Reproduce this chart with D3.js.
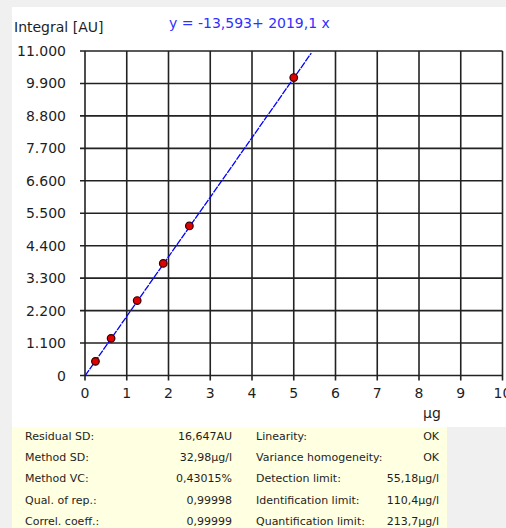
<!DOCTYPE html>
<html><head><meta charset="utf-8">
<script src="https://cdn.jsdelivr.net/npm/d3@7"></script>
<style>
html,body{margin:0;padding:0;background:#f0f0f0;overflow:hidden}
svg{display:block}
</style></head>
<body>
<svg id="c" width="506" height="528"></svg>
<script>
const concentrations = [0.25, 0.625, 1.25, 1.875, 2.5, 5];
const integrals = [480, 1260, 2540, 3800, 5070, 10100];
const intercept = -13.593;
const slope = 2019.1;
const lineXRange = [0, 5.42];
const xTicks = [0,1,2,3,4,5,6,7,8,9,10];
const yTicks = [0,1100,2200,3300,4400,5500,6600,7700,8800,9900,11000];
const yTickLabels = ["0","1.100","2.200","3.300","4.400","5.500","6.600","7.700","8.800","9.900","11.000"];
const yAxisTitle = "Integral [AU]";
const xAxisTitle = "µg";
const equationText = "y = -13,593+ 2019,1 x";
const statLabelsLeft = ["Residual SD:","Method SD:","Method VC:","Qual. of rep.:","Correl. coeff.:"];
const statValuesLeft = ["16,647AU","32,98µg/l","0,43015%","0,99998","0,99999"];
const statLabelsRight = ["Linearity:","Variance homogeneity:","Detection limit:","Identification limit:","Quantification limit:"];
const statValuesRight = ["OK","OK","55,18µg/l","110,4µg/l","213,7µg/l"];

const svg = d3.select("#c");
const font = "Tahoma, 'DejaVu Sans', sans-serif";

// white panel
svg.append("rect").attr("x",12).attr("y",7).attr("width",494).attr("height",420).attr("fill","#ffffff");
// yellow stats panel
svg.append("rect").attr("x",12).attr("y",427).attr("width",435).attr("height",101).attr("fill","#ffffe1");

const x = d3.scaleLinear().domain([0,10]).range([85,502.5]);
const y = d3.scaleLinear().domain([0,11000]).range([375.5,51]);

const g = svg.append("g");
// grid
g.selectAll("line.vx").data(xTicks).join("line")
  .attr("x1",d=>x(d)).attr("x2",d=>x(d)).attr("y1",y(11000)).attr("y2",y(0)+5)
  .attr("stroke","#222").attr("stroke-width",1.6);
g.selectAll("line.hy").data(yTicks).join("line")
  .attr("x1",x(0)-5).attr("x2",x(10)).attr("y1",d=>y(d)).attr("y2",d=>y(d))
  .attr("stroke","#222").attr("stroke-width",1.6);

// y tick labels
g.selectAll("text.yl").data(yTicks).join("text")
  .attr("x",66).attr("y",d=>y(d)).attr("dy","0.36em").attr("text-anchor","end")
  .attr("font-family",font).attr("font-size",14).attr("fill","#1e1e1e")
  .text((d,i)=>yTickLabels[i]);
// x tick labels
g.selectAll("text.xl").data(xTicks).join("text")
  .attr("x",d=>x(d)).attr("y",393).attr("dy","0.36em").attr("text-anchor","middle")
  .attr("font-family",font).attr("font-size",14).attr("fill","#1e1e1e")
  .text(d=>d);

svg.append("text").attr("x",432).attr("y",413).attr("dy","0.36em").attr("text-anchor","middle")
  .attr("font-family",font).attr("font-size",14).attr("fill","#1e1e1e").text(xAxisTitle);
svg.append("text").attr("x",14).attr("y",27).attr("dy","0.36em")
  .attr("font-family",font).attr("font-size",14).attr("fill","#1e1e1e").text(yAxisTitle);
svg.append("text").attr("x",169).attr("y",23).attr("dy","0.36em")
  .attr("font-family",font).attr("font-size",14).attr("fill","#3030ff").text(equationText);

// regression line
const lineData = lineXRange.map(v=>[v, intercept+slope*v]);
svg.append("path").datum(lineData)
  .attr("d", d3.line().x(d=>x(d[0])).y(d=>y(d[1])))
  .attr("stroke","#0000ff").attr("stroke-width",1.3).attr("fill","none")
  .attr("stroke-dasharray","7,1");

// points
svg.selectAll("circle.pt").data(concentrations).join("circle")
  .attr("cx",d=>x(d)).attr("cy",(d,i)=>y(integrals[i])).attr("r",3.8)
  .attr("fill","#e00000").attr("stroke","#300000").attr("stroke-width",1.2);

// stats table
const rowY = i => 436 + i*21.2;
const tf = 11;
svg.selectAll("text.sl").data(statLabelsLeft).join("text")
  .attr("x",25).attr("y",(d,i)=>rowY(i)).attr("dy","0.36em")
  .attr("font-family",font).attr("font-size",tf).attr("fill","#1e1e1e").text(d=>d);
svg.selectAll("text.sv").data(statValuesLeft).join("text")
  .attr("x",232).attr("y",(d,i)=>rowY(i)).attr("dy","0.36em").attr("text-anchor","end")
  .attr("font-family",font).attr("font-size",tf).attr("fill","#1e1e1e").text(d=>d);
svg.selectAll("text.rl").data(statLabelsRight).join("text")
  .attr("x",256).attr("y",(d,i)=>rowY(i)).attr("dy","0.36em")
  .attr("font-family",font).attr("font-size",tf).attr("fill","#1e1e1e").text(d=>d);
svg.selectAll("text.rv").data(statValuesRight).join("text")
  .attr("x",439).attr("y",(d,i)=>rowY(i)).attr("dy","0.36em").attr("text-anchor","end")
  .attr("font-family",font).attr("font-size",tf).attr("fill","#1e1e1e").text(d=>d);
</script>
</body></html>
